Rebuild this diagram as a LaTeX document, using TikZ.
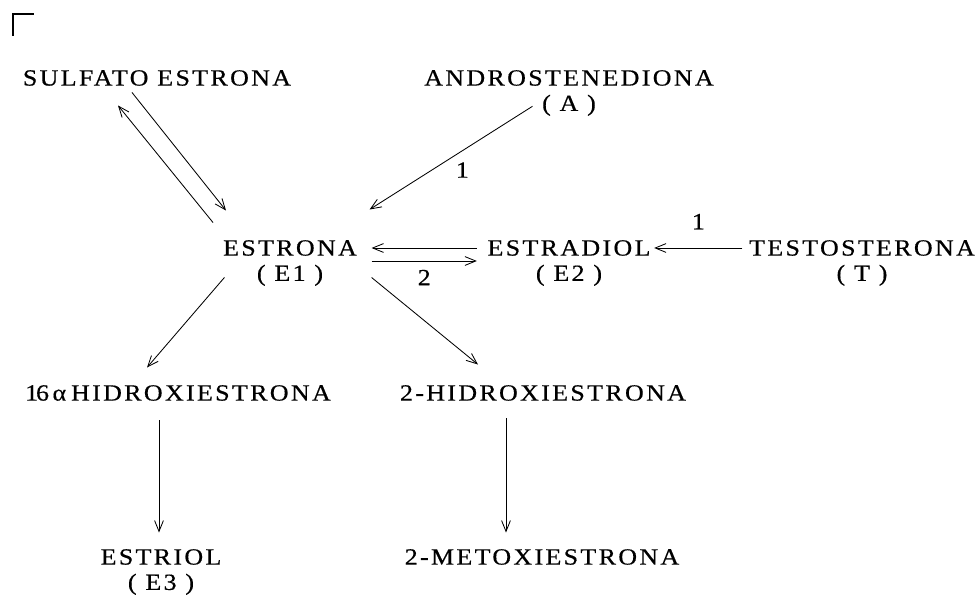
\documentclass[tikz,border=0pt]{standalone}
\usepackage{fontspec}
\setmainfont{Liberation Serif}[LetterSpace=10, FakeStretch=1.12, FakeBold=0.5]
\usetikzlibrary{arrows.meta,positioning,calc}

\begin{document}
\begin{tikzpicture}[
    x=0.025cm, y=-0.025cm,
    chem/.style={inner sep=1pt, font=\fontsize{16.5}{18}\selectfont},
    step num/.style={inner sep=1pt, font=\fontsize{16.5}{18}\selectfont},
    arrow/.style={-{Straight Barb[length=2.7mm,width=2.2mm]}, line width=0.6pt}
]
    \useasboundingbox (0,0) rectangle (980,602);
    % crop mark
    \draw[line width=1.3pt] (13,36) -- (13,14) -- (34,14);

    \node[chem] (sulf) at (157,78) {SULFATO ESTRONA};
    \node[chem] (andro) at (569,78) {ANDROSTENEDIONA};
    \node[chem, below=4pt of andro] (androA) {( A )};
    \node[chem] (e1) at (290,248) {ESTRONA};
    \node[chem, below=4pt of e1] (e1lab) {( E1 )};
    \node[chem] (e2) at (569,248) {ESTRADIOL};
    \node[chem, below=4pt of e2] (e2lab) {( E2 )};
    \node[chem] (testo) at (862,248) {TESTOSTERONA};
    \node[chem, below=4pt of testo] (testolab) {( T )};
    \node[chem] (hid16) at (178,393) {1\kern-1.5pt 6\kern2.5pt α\kern3.5pt HIDROXIESTRONA};
    \node[chem] (hid2) at (543,393) {2-HIDROXIESTRONA};
    \node[chem] (estriol) at (161,557) {ESTRIOL};
    \node[chem, below=4pt of estriol] (estriollab) {( E3 )};
    \node[chem] (metoxi) at (542,557) {2-METOXIESTRONA};

    % sulfato <-> estrona
    \draw[arrow] ($(sulf.south)+(-25,5)$) -- ($(e1.north)+(-64,-28)$);
    \draw[arrow] ($(e1.north)+(-77,-16)$) -- ($(sulf.south)+(-39,18)$);
    % androstenediona -> estrona
    \draw[arrow] ($(androA.west)+(-8,1)$) -- ($(e1.north east)+(11,-29)$)
        node[step num, pos=0.43, below=7pt] {1};
    % estrona <-> estradiol
    \draw[arrow] ($(e2.west)+(-9,0)$) -- ($(e1.east)+(13,0)$);
    \draw[arrow] ($(e1.east)+(13,13)$) -- ($(e2.west)+(-9,13)$)
        node[step num, midway, below=5pt] {2};
    % testosterona -> estradiol
    \draw[arrow] ($(testo.west)+(-5,0)$) -- ($(e2.east)+(2,0)$)
        node[step num, midway, above=12pt] {1};
    % estrona -> hidroxiestronas
    \draw[arrow] ($(e1.south west)+(3,20)$) -- ($(hid16.north)+(-31,-16)$);
    \draw[arrow] ($(e1.south east)+(13,20)$) -- ($(hid2.north)+(-65,-19)$);
    % down
    \draw[arrow] ($(hid16.south)+(-19,18)$) -- ($(estriol.north)+(-2,-15)$);
    \draw[arrow] ($(hid2.south)+(-37,16)$) -- ($(metoxi.north)+(-36,-15)$);
\end{tikzpicture}
\end{document}
